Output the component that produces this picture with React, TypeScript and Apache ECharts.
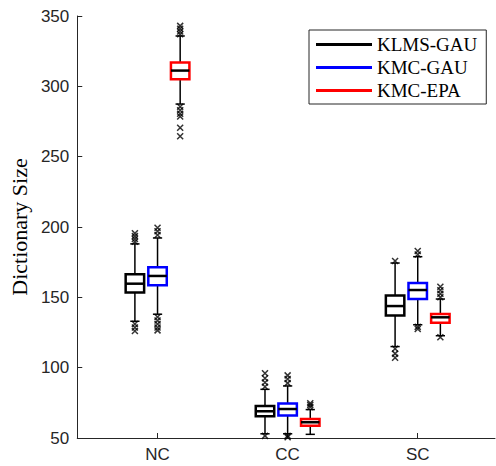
import React, { useEffect, useRef } from "react";
import * as echarts from "echarts";

// Categories and method names
const CATEGORIES = ["NC", "CC", "SC"];
const METHODS = ["KLMS-GAU", "KMC-GAU", "KMC-EPA"];
const COLORS = ["#000000", "#0000ff", "#ff0000"];
const OFFSETS = [-0.174, 0, 0.174];

// Box statistics per method, per category (NC, CC, SC)
const KLMS_GAU_LOW = [133, 53, 115];
const KLMS_GAU_Q1 = [153.5, 65.5, 137.1];
const KLMS_GAU_MED = [159.7, 69.0, 143.8];
const KLMS_GAU_Q3 = [166.4, 72.8, 151.3];
const KLMS_GAU_HIGH = [188, 84.6, 174.4];

const KMC_GAU_LOW = [138, 53, 130.5];
const KMC_GAU_Q1 = [158.6, 66.0, 148.8];
const KMC_GAU_MED = [165.2, 70.6, 155.2];
const KMC_GAU_Q3 = [171.4, 74.5, 160.2];
const KMC_GAU_HIGH = [192.2, 87, 178.9];

const KMC_EPA_LOW = [287.4, 52.6, 122.7];
const KMC_EPA_Q1 = [305.0, 58.7, 132.0];
const KMC_EPA_MED = [311.2, 61.2, 135.8];
const KMC_EPA_Q3 = [317.0, 63.5, 138.2];
const KMC_EPA_HIGH = [335.8, 70.2, 148.8];

// Outliers: [categoryIndex, value]
const KLMS_GAU_OUT = [
  [0, 189.5], [0, 191.5], [0, 193.5], [0, 195.5],
  [0, 131], [0, 128.5], [0, 126],
  [1, 86.5], [1, 89.5], [1, 92.5], [1, 96],
  [1, 51.5],
  [2, 175.8], [2, 113.5], [2, 110], [2, 107],
];
const KMC_GAU_OUT = [
  [0, 194.3], [0, 197], [0, 199.5],
  [0, 136], [0, 133.5], [0, 131], [0, 128.5], [0, 126.5],
  [1, 89], [1, 92], [1, 94.5],
  [1, 51.5], [1, 50.5],
  [2, 180.5], [2, 183],
  [2, 129], [2, 127.5],
];
const KMC_EPA_OUT = [
  [0, 337], [0, 339], [0, 341], [0, 343],
  [0, 285.5], [0, 283], [0, 280.5], [0, 278.5], [0, 270.5], [0, 264.5],
  [1, 72], [1, 73.5], [1, 74.7],
  [2, 150], [2, 152.5], [2, 155], [2, 157.5],
  [2, 121.6],
];

const Y_MIN = 50;
const Y_MAX = 350;
const Y_INTERVAL = 50;
const X_MIN = 0.383;
const X_MAX = 3.594;
const BOX_W = 0.142;

const STATS = [
  [KLMS_GAU_LOW, KLMS_GAU_Q1, KLMS_GAU_MED, KLMS_GAU_Q3, KLMS_GAU_HIGH],
  [KMC_GAU_LOW, KMC_GAU_Q1, KMC_GAU_MED, KMC_GAU_Q3, KMC_GAU_HIGH],
  [KMC_EPA_LOW, KMC_EPA_Q1, KMC_EPA_MED, KMC_EPA_Q3, KMC_EPA_HIGH],
];
const OUTLIERS = [KLMS_GAU_OUT, KMC_GAU_OUT, KMC_EPA_OUT];

const AXIS_COLOR = "#262626";
const SANS = "'Liberation Sans', Helvetica, Arial, sans-serif";
const SERIF = "'Liberation Serif', 'Times New Roman', serif";

export default function App() {
  const ref = useRef<HTMLDivElement>(null);

  useEffect(() => {
    if (!ref.current) return;
    const chart = echarts.init(ref.current, undefined, { renderer: "svg" });

    const boxSeries = METHODS.map((name, m) => {
      const [lo, q1, md, q3, hi] = STATS[m];
      const data = CATEGORIES.map((_, c) => [
        c + 1 + OFFSETS[m],
        lo[c],
        q1[c],
        md[c],
        q3[c],
        hi[c],
      ]);
      const color = COLORS[m];
      return {
        name,
        type: "custom",
        itemStyle: { color },
        encode: { x: 0, y: [1, 2, 3, 4, 5] },
        data,
        renderItem: (params: any, api: any) => {
          const x = api.value(0);
          const pLow = api.coord([x, api.value(1)]);
          const pQ1 = api.coord([x, api.value(2)]);
          const pMed = api.coord([x, api.value(3)]);
          const pQ3 = api.coord([x, api.value(4)]);
          const pHigh = api.coord([x, api.value(5)]);
          const w = api.size([BOX_W, 0])[0];
          const cx = pQ1[0];
          const wStyle = { stroke: "#000", lineWidth: 1.5 };
          return {
            type: "group",
            children: [
              { type: "line", shape: { x1: cx, y1: pQ3[1], x2: cx, y2: pHigh[1] }, style: wStyle },
              { type: "line", shape: { x1: cx - w / 4, y1: pHigh[1], x2: cx + w / 4, y2: pHigh[1] }, style: wStyle },
              { type: "line", shape: { x1: cx, y1: pQ1[1], x2: cx, y2: pLow[1] }, style: wStyle },
              { type: "line", shape: { x1: cx - w / 4, y1: pLow[1], x2: cx + w / 4, y2: pLow[1] }, style: wStyle },
              {
                type: "rect",
                shape: { x: cx - w / 2, y: pQ3[1], width: w, height: pQ1[1] - pQ3[1] },
                style: { fill: "#fff", stroke: color, lineWidth: 2.5 },
              },
              {
                type: "line",
                shape: { x1: cx - w / 2, y1: pMed[1], x2: cx + w / 2, y2: pMed[1] },
                style: { stroke: "#000", lineWidth: 2.5 },
              },
            ],
          };
        },
        z: 2,
      };
    });

    const outlierSeries = METHODS.map((name, m) => ({
      name: name + " outliers",
      type: "scatter",
      symbol: "path://M0,0L10,10M10,0L0,10",
      symbolSize: 6,
      itemStyle: { color: "none", borderColor: "#000", borderWidth: 1.5 },
      data: OUTLIERS[m].map(([c, v]) => [c + 1 + OFFSETS[m], v]),
      z: 3,
      silent: true,
    }));

    chart.setOption({
      animation: false,
      backgroundColor: "#fff",
      grid: { left: 77, right: 1, top: 16, bottom: 28, containLabel: false },
      legend: {
        data: METHODS,
        orient: "vertical",
        left: 309,
        top: 30,
        padding: [5, 9, 4, 7],
        itemGap: 4,
        itemWidth: 56,
        itemHeight: 3,
        icon: "rect",
        borderColor: AXIS_COLOR,
        borderWidth: 1,
        backgroundColor: "#fff",
        selectedMode: false,
        textStyle: { fontFamily: SERIF, fontSize: 19, color: "#000", padding: [0, 0, 0, 0] },
      },
      xAxis: {
        type: "value",
        min: X_MIN,
        max: X_MAX,
        axisLine: { show: true, lineStyle: { color: AXIS_COLOR, width: 1 } },
        axisTick: {
          show: true,
          inside: true,
          length: 5,
          customValues: [1, 2, 3],
          lineStyle: { color: AXIS_COLOR },
        },
        axisLabel: {
          customValues: [1, 2, 3],
          formatter: (v: number) => CATEGORIES[Math.round(v) - 1] ?? "",
          fontFamily: SANS,
          fontSize: 17,
          color: AXIS_COLOR,
          margin: 8,
        },
        splitLine: { show: false },
      },
      yAxis: {
        type: "value",
        min: Y_MIN,
        max: Y_MAX,
        interval: Y_INTERVAL,
        name: "Dictionary Size",
        nameLocation: "middle",
        nameGap: 46,
        nameTextStyle: { fontFamily: SERIF, fontSize: 22, color: "#000" },
        axisLine: { show: true, lineStyle: { color: AXIS_COLOR, width: 1 } },
        axisTick: { show: true, inside: true, length: 5, lineStyle: { color: AXIS_COLOR } },
        axisLabel: { fontFamily: SANS, fontSize: 17, color: AXIS_COLOR, margin: 8 },
        splitLine: { show: false },
      },
      series: [...boxSeries, ...outlierSeries],
    });

    return () => chart.dispose();
  }, []);

  return (
    <div
      ref={ref}
      style={{ position: "fixed", left: 0, top: 0, width: 496, height: 466, background: "#fff" }}
    />
  );
}
